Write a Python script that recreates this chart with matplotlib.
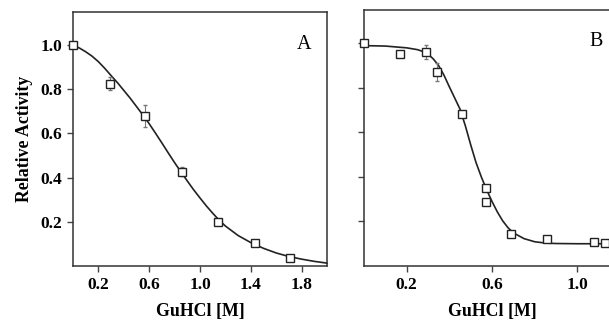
import matplotlib
matplotlib.use('Agg')
import matplotlib.pyplot as plt

plt.rcParams['font.family'] = ['Liberation Serif', 'DejaVu Serif']

# ── Panel A: data points ──────────────────────────────────────────────────────
A_x   = [0.0, 0.29, 0.57, 0.86, 1.14, 1.43, 1.71]
A_y   = [1.0, 0.825, 0.68, 0.427, 0.198, 0.102, 0.037]
A_err = [0.005, 0.03, 0.05, 0.02, 0.01, 0.008, 0.005]

# fitted curve
A_fx = [0.0, 0.05, 0.1, 0.15, 0.2, 0.25, 0.3, 0.35, 0.4, 0.45, 0.5, 0.55, 0.6,
        0.65, 0.7, 0.75, 0.8, 0.85, 0.9, 0.95, 1.0, 1.05, 1.1, 1.15, 1.2,
        1.3, 1.4, 1.5, 1.6, 1.7, 1.8, 1.9, 2.0]
A_fy = [1.0, 0.987, 0.97, 0.95, 0.925, 0.895, 0.862, 0.83, 0.795, 0.76, 0.722,
        0.684, 0.644, 0.601, 0.557, 0.512, 0.468, 0.426, 0.385, 0.345, 0.308,
        0.272, 0.239, 0.208, 0.181, 0.138, 0.106, 0.08, 0.059, 0.043, 0.031,
        0.021, 0.013]

# ── Panel B: data points ──────────────────────────────────────────────────────
B_x   = [0.0, 0.17, 0.29, 0.34, 0.46, 0.57, 0.57, 0.69, 0.86, 1.08, 1.13]
B_y   = [1.0, 0.951, 0.962, 0.87, 0.682, 0.351, 0.288, 0.145, 0.122, 0.107, 0.102]
B_err = [0.005, 0.005, 0.03, 0.04, 0.01, 0.01, 0.01, 0.01, 0.005, 0.005, 0.005]

B_fx = [0.0, 0.1, 0.2, 0.25, 0.275, 0.3, 0.325, 0.35, 0.375, 0.4, 0.425, 0.45,
        0.475, 0.5, 0.525, 0.55, 0.575, 0.6, 0.625, 0.65, 0.675, 0.7, 0.75,
        0.8, 0.85, 0.9, 1.0, 1.2]
B_fy = [0.99, 0.988, 0.98, 0.972, 0.964, 0.952, 0.93, 0.9, 0.857, 0.805, 0.755,
        0.705, 0.63, 0.545, 0.465, 0.4, 0.342, 0.29, 0.243, 0.203, 0.172, 0.149,
        0.123, 0.109, 0.103, 0.101, 0.1, 0.1]

A_ticks = [0.2, 0.6, 1.0, 1.4, 1.8]
B_ticks = [0.2, 0.6, 1.0]
Y_ticks = [0.2, 0.4, 0.6, 0.8, 1.0]

W, H = 609, 322
fig = plt.figure(figsize=(W / 100, H / 100), dpi=100)

axA = fig.add_axes([73 / W, 1 - 266 / H, 254 / W, 254 / H])
axB = fig.add_axes([364 / W, 1 - 266 / H, 256 / W, 256 / H])

TF = dict(fontsize=12.5, fontweight='bold')

def style(ax, xmax, xticks, show_ylabels):
    ax.set_xlim(0, xmax)
    ax.set_ylim(0, 1.15)
    ax.set_xticks(xticks)
    ax.set_xticklabels([f'{t:.1f}' for t in xticks], **TF)
    ax.set_yticks(Y_ticks)
    if show_ylabels:
        ax.set_yticklabels([f'{t:.1f}' for t in Y_ticks], **TF)
    else:
        ax.set_yticklabels([])
    ax.tick_params(direction='out', length=4, width=1, color='#444444', pad=4)
    for sp in ax.spines.values():
        sp.set_color('#333333')
        sp.set_linewidth(1.1)
    ax.set_xlabel('GuHCl [M]', fontsize=12.8, fontweight='bold', labelpad=7)

mk = dict(fmt='s', mfc='white', mec='#222222', ms=5.5, mew=1.0,
          ecolor='#777777', elinewidth=0.8, capsize=1.5, zorder=3, clip_on=False)

axA.plot(A_fx, A_fy, color='#222222', lw=1.2, zorder=2, clip_on=False)
axA.errorbar(A_x, A_y, yerr=A_err, **mk)
style(axA, 2.0, A_ticks, True)
axA.set_ylabel('Relative Activity', fontsize=12.8, fontweight='bold', labelpad=5)
axA.text(1.82, 1.005, 'A', fontsize=14.5, ha='center', va='center')

axB.plot(B_fx, B_fy, color='#222222', lw=1.2, zorder=2)
axB.errorbar(B_x, B_y, yerr=B_err, **mk)
style(axB, 1.2, B_ticks, False)
axB.text(1.09, 1.01, 'B', fontsize=14.5, ha='center', va='center')

fig.savefig('out.png', dpi=100)
